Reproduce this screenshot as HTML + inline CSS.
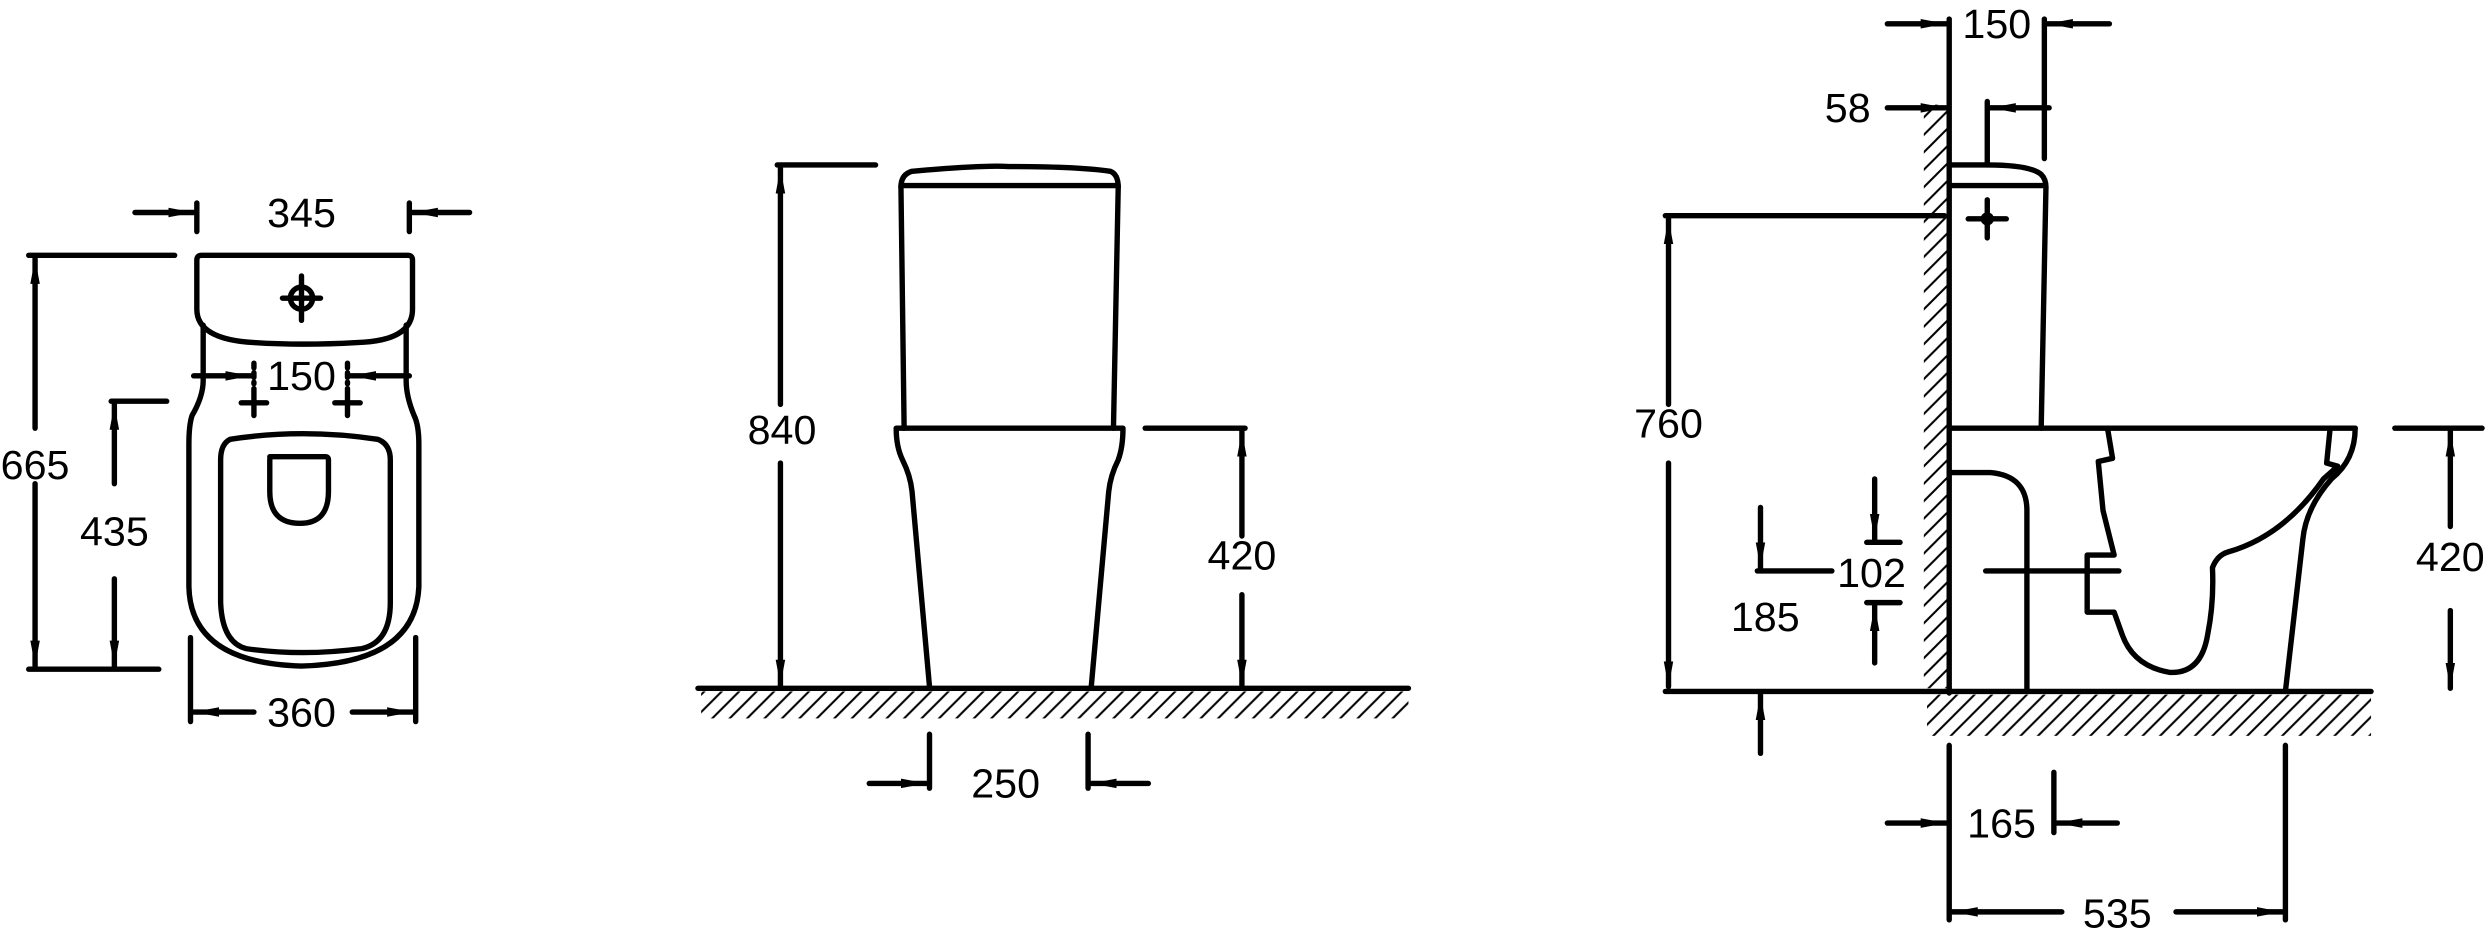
<!DOCTYPE html>
<html><head><meta charset="utf-8"><style>
html,body{margin:0;padding:0;background:#fff;}
svg{display:block;}
text{font-family:"Liberation Sans",sans-serif;font-size:26px;fill:#000;}
</style></head><body>
<svg width="2487" height="942" viewBox="0 0 1568 594" xmlns="http://www.w3.org/2000/svg">
<defs>
<marker id="a" viewBox="0 0 16 8" refX="16" refY="4" markerWidth="16" markerHeight="8" markerUnits="userSpaceOnUse" orient="auto">
<path d="M0,1 L16,4 L0,7 Z" fill="#000"/></marker>
<pattern id="h" width="11" height="11" patternUnits="userSpaceOnUse">
<path d="M-1,12 L12,-1 M-6,6 L6,-6 M5,17 L17,5" stroke="#000" stroke-width="1.3"/></pattern>
</defs>
<g fill="none" stroke="#000" stroke-width="3.4" stroke-linecap="round" stroke-linejoin="round">
<!-- LEFT VIEW -->
<line x1="85" y1="134" x2="122" y2="134" marker-end="url(#a)"/>
<line x1="124" y1="128" x2="124" y2="146"/>
<line x1="258" y1="128" x2="258" y2="146"/>
<line x1="296" y1="134" x2="260" y2="134" marker-end="url(#a)"/>
<line x1="18" y1="161" x2="110" y2="161"/>
<line x1="18" y1="422" x2="100" y2="422"/>
<line x1="22" y1="270" x2="22" y2="163" marker-end="url(#a)"/>
<line x1="22" y1="305" x2="22" y2="420" marker-end="url(#a)"/>
<path d="M127,161 H257 Q260,161 260,164 V195 Q260,215 225,216 Q190,218 160,216 Q124,214 124,195 V164 Q124,161 127,161 Z"/>
<circle cx="190" cy="188" r="7"/>
<line x1="178" y1="188" x2="202" y2="188"/><line x1="190" y1="174" x2="190" y2="202"/>
<path d="M128,205 V240 Q128,250 121,262 Q119,268 119,280 V370 Q120,418 190,420 Q262,418 264,370 V280 Q264,268 261,262 Q256,250 256,240 V205"/>
<path d="M145,277 Q190,270 238,277 Q246,280 246,290 V380 Q246,405 228,409 Q190,414 155,409 Q140,405 139,380 V290 Q139,280 145,277 Z"/>
<path d="M170,288 H205 Q207,288 207,290 V310 Q207,330 189,330 Q170,330 170,310 V290 Q170,288 172,288 Z"/>
<line x1="122" y1="237" x2="158" y2="237" marker-end="url(#a)"/>
<line x1="258" y1="237" x2="221" y2="237" marker-end="url(#a)"/>
<line x1="160" y1="229" x2="160" y2="242" stroke-dasharray="3,3"/>
<line x1="219" y1="229" x2="219" y2="242" stroke-dasharray="3,3"/>
<line x1="160" y1="245" x2="160" y2="262"/><line x1="152" y1="254" x2="168" y2="254"/>
<line x1="219" y1="245" x2="219" y2="262"/><line x1="211" y1="254" x2="227" y2="254"/>
<line x1="70" y1="253" x2="105" y2="253"/>
<line x1="72" y1="305" x2="72" y2="255" marker-end="url(#a)"/>
<line x1="72" y1="365" x2="72" y2="420" marker-end="url(#a)"/>
<line x1="120" y1="402" x2="120" y2="455"/>
<line x1="262" y1="402" x2="262" y2="455"/>
<line x1="160" y1="449" x2="122" y2="449" marker-end="url(#a)"/>
<line x1="222" y1="449" x2="260" y2="449" marker-end="url(#a)"/>
<!-- MIDDLE VIEW -->
<line x1="490" y1="104" x2="552" y2="104"/>
<line x1="492" y1="255" x2="492" y2="106" marker-end="url(#a)"/>
<line x1="492" y1="292" x2="492" y2="432" marker-end="url(#a)"/>
<path d="M568,118 Q568,110 575,108 Q620,104 636,105 Q680,105 700,108 Q705,110 705,118"/>
<line x1="568" y1="117" x2="705" y2="117"/>
<path d="M568,118 L570,270 M705,118 L702,270"/>
<path d="M565,270 H708 Q708,282 705,290 Q700,300 699,310 L688,433 M565,270 Q565,282 569,290 Q574,300 575,310 L586,433"/>
<line x1="440" y1="434" x2="888" y2="434"/>
<line x1="722" y1="270" x2="785" y2="270"/>
<line x1="783" y1="338" x2="783" y2="272" marker-end="url(#a)"/>
<line x1="783" y1="375" x2="783" y2="432" marker-end="url(#a)"/>
<line x1="586" y1="463" x2="586" y2="497"/>
<line x1="686" y1="463" x2="686" y2="497"/>
<line x1="548" y1="494" x2="584" y2="494" marker-end="url(#a)"/>
<line x1="724" y1="494" x2="688" y2="494" marker-end="url(#a)"/>
<!-- RIGHT VIEW -->
<line x1="1229" y1="12" x2="1229" y2="437"/>
<line x1="1289" y1="12" x2="1289" y2="100"/>
<line x1="1190" y1="15" x2="1227" y2="15" marker-end="url(#a)"/>
<line x1="1330" y1="15" x2="1291" y2="15" marker-end="url(#a)"/>
<line x1="1190" y1="68" x2="1227" y2="68" marker-end="url(#a)"/>
<line x1="1253" y1="64" x2="1253" y2="104"/>
<line x1="1292" y1="68" x2="1255" y2="68" marker-end="url(#a)"/>
<path d="M1229,104 H1253 Q1280,104 1287,110 Q1290,113 1290,118"/>
<line x1="1229" y1="117" x2="1288" y2="117"/>
<path d="M1290,118 L1287,270"/>
<line x1="1253" y1="126" x2="1253" y2="150"/><line x1="1241" y1="138" x2="1265" y2="138"/>
<circle cx="1253" cy="138" r="2.5" fill="#000"/>
<line x1="1050" y1="136" x2="1226" y2="136"/>
<line x1="1052" y1="255" x2="1052" y2="138" marker-end="url(#a)"/>
<line x1="1052" y1="292" x2="1052" y2="433" marker-end="url(#a)"/>
<line x1="1050" y1="436" x2="1495" y2="436"/>
<line x1="1229" y1="270" x2="1485" y2="270"/>
<path d="M1229,298 H1255 Q1278,300 1278,322 V436"/>
<path d="M1329,271 L1332,289 L1323,291 L1326,322 L1333,350 L1316,350 L1316,386 L1333,386 L1338,400 Q1345,420 1368,424 Q1388,425 1392,400 Q1396,380 1395,358 Q1398,350 1405,348 Q1440,338 1465,302 L1474,294 L1467,292 L1469,272"/>
<path d="M1485,270 Q1485,290 1470,302 Q1454,320 1452,340 L1441,436"/>
<line x1="1252" y1="360" x2="1336" y2="360"/>
<line x1="1177" y1="342" x2="1198" y2="342"/>
<line x1="1177" y1="380" x2="1198" y2="380"/>
<line x1="1182" y1="302" x2="1182" y2="340" marker-end="url(#a)"/>
<line x1="1182" y1="418" x2="1182" y2="382" marker-end="url(#a)"/>
<line x1="1108" y1="360" x2="1155" y2="360"/>
<line x1="1110" y1="320" x2="1110" y2="358" marker-end="url(#a)"/>
<line x1="1110" y1="475" x2="1110" y2="438" marker-end="url(#a)"/>
<line x1="1510" y1="270" x2="1565" y2="270"/>
<line x1="1545" y1="332" x2="1545" y2="272" marker-end="url(#a)"/>
<line x1="1545" y1="385" x2="1545" y2="434" marker-end="url(#a)"/>
<line x1="1229" y1="470" x2="1229" y2="580"/>
<line x1="1441" y1="470" x2="1441" y2="580"/>
<line x1="1295" y1="487" x2="1295" y2="525"/>
<line x1="1190" y1="519" x2="1227" y2="519" marker-end="url(#a)"/>
<line x1="1335" y1="519" x2="1297" y2="519" marker-end="url(#a)"/>
<line x1="1300" y1="575" x2="1231" y2="575" marker-end="url(#a)"/>
<line x1="1372" y1="575" x2="1439" y2="575" marker-end="url(#a)"/>
</g>
<!-- hatches -->
<rect x="442" y="436" width="446" height="17" fill="url(#h)"/>
<rect x="1215" y="438" width="280" height="26" fill="url(#h)"/>
<rect x="1213" y="66" width="15" height="368" fill="url(#h)"/>
<!-- labels -->
<g text-anchor="middle">
<text x="190" y="143">345</text>
<text x="22" y="302">665</text>
<text x="190" y="246">150</text>
<text x="72" y="344">435</text>
<text x="190" y="458">360</text>
<text x="493" y="280">840</text>
<text x="783" y="359">420</text>
<text x="634" y="503">250</text>
<text x="1259" y="24">150</text>
<text x="1165" y="77">58</text>
<text x="1052" y="276">760</text>
<text x="1180" y="370">102</text>
<text x="1113" y="398">185</text>
<text x="1545" y="360">420</text>
<text x="1262" y="528">165</text>
<text x="1335" y="585">535</text>
</g>
</svg>
</body></html>
